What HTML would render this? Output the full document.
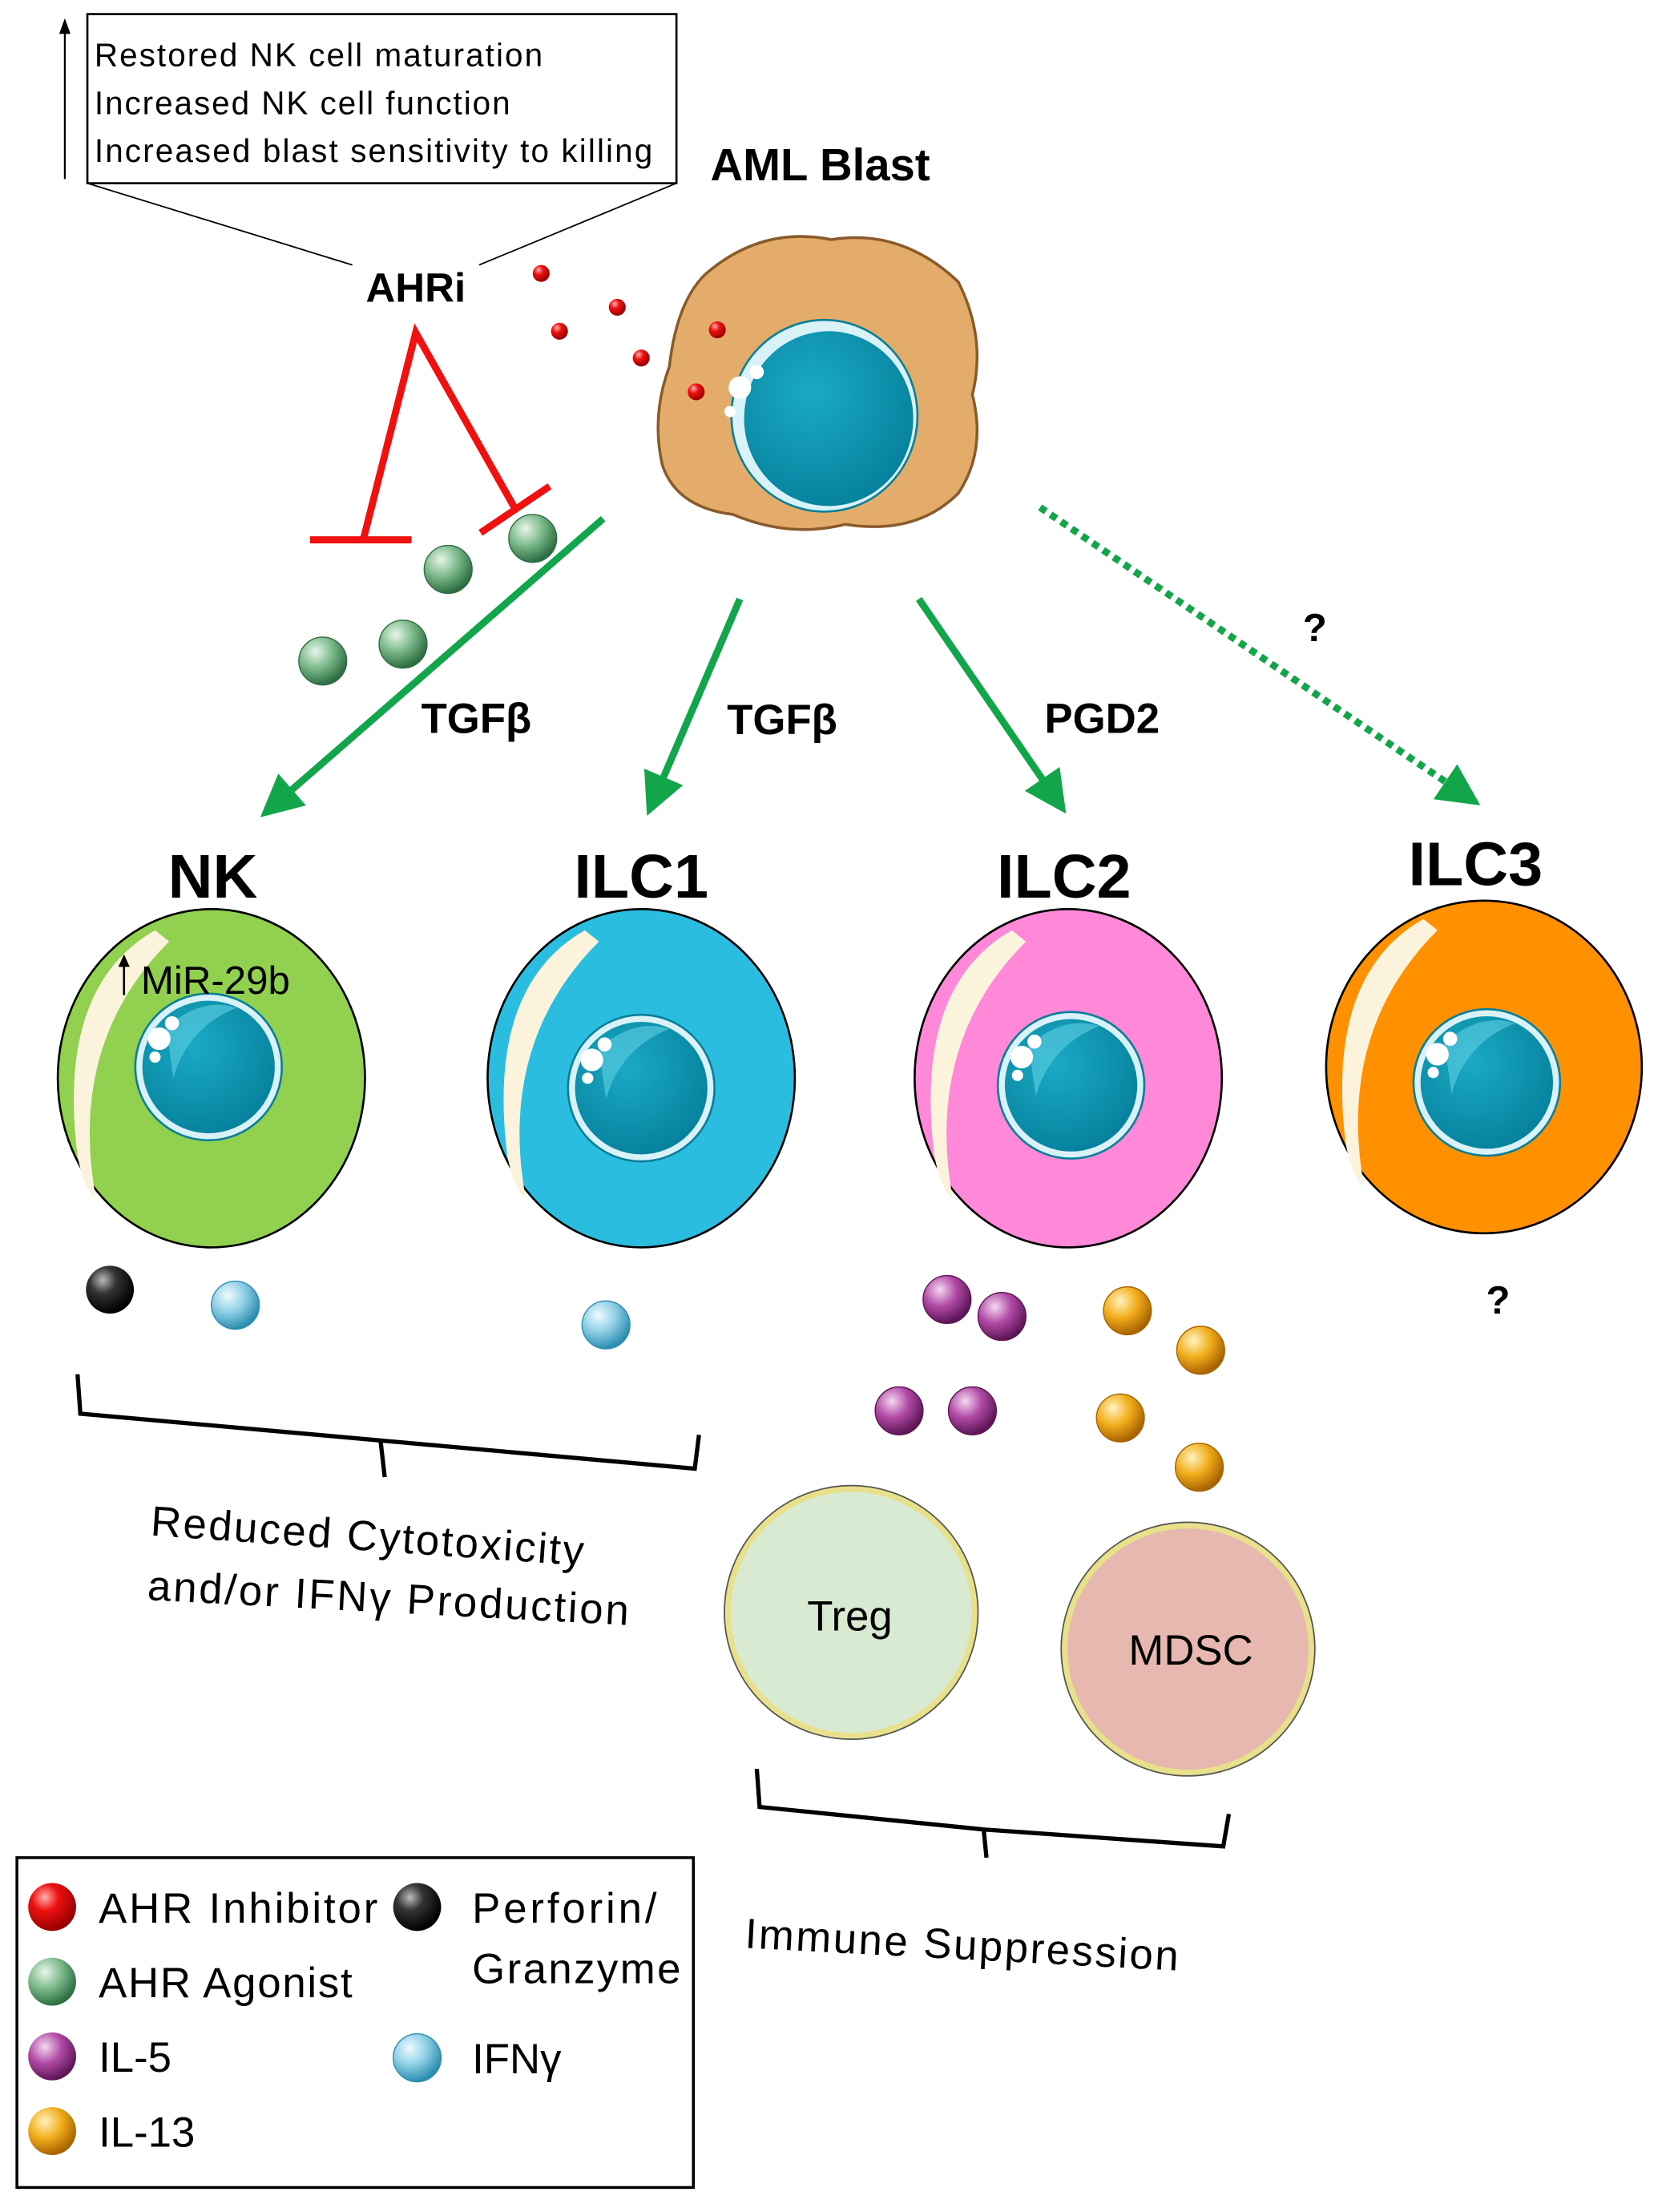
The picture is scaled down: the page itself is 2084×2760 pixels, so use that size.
<!DOCTYPE html>
<html><head><meta charset="utf-8"><style>
html,body{margin:0;padding:0;background:#fff;}
svg{display:block;}
text{font-family:"Liberation Sans",sans-serif;fill:#000;}
</style></head><body>
<svg width="2084" height="2760" viewBox="0 0 1185 1569.4" xmlns="http://www.w3.org/2000/svg">
<defs>
<radialGradient id="gRed" cx="0.35" cy="0.3" r="0.7"><stop offset="0" stop-color="#ffb0b0"/><stop offset="0.4" stop-color="#ee1111"/><stop offset="1" stop-color="#990000"/></radialGradient>
<radialGradient id="gGreen" cx="0.35" cy="0.3" r="0.7"><stop offset="0" stop-color="#e8f5ea"/><stop offset="0.5" stop-color="#7dbb8c"/><stop offset="1" stop-color="#2e6e42"/></radialGradient>
<radialGradient id="gPurp" cx="0.35" cy="0.3" r="0.7"><stop offset="0" stop-color="#f5d8f0"/><stop offset="0.5" stop-color="#b049a5"/><stop offset="1" stop-color="#5d1656"/></radialGradient>
<radialGradient id="gOr" cx="0.35" cy="0.3" r="0.7"><stop offset="0" stop-color="#fff3c0"/><stop offset="0.5" stop-color="#f2ae1c"/><stop offset="1" stop-color="#a96400"/></radialGradient>
<radialGradient id="gBlk" cx="0.35" cy="0.3" r="0.7"><stop offset="0" stop-color="#bbb"/><stop offset="0.4" stop-color="#333"/><stop offset="1" stop-color="#000"/></radialGradient>
<radialGradient id="gBlu" cx="0.35" cy="0.3" r="0.7"><stop offset="0" stop-color="#f0fbff"/><stop offset="0.5" stop-color="#8fd0e6"/><stop offset="1" stop-color="#2d8eb0"/></radialGradient>
<radialGradient id="gNuc" cx="0.4" cy="0.35" r="0.7"><stop offset="0" stop-color="#1aaac4"/><stop offset="1" stop-color="#06809c"/></radialGradient>
<marker id="ah" markerWidth="6" markerHeight="6" refX="3" refY="3" orient="auto" markerUnits="strokeWidth"><path d="M0,0 L6,3 L0,6 z" fill="#12a54b"/></marker>
<g id="nuc">
<circle r="52" fill="#d8f2f8" stroke="#0a7f98" stroke-width="1.5"/>
<circle r="47" fill="url(#gNuc)"/>
<path d="M-30,-28 Q-5,-50 20,-42 Q-15,-28 -25,8 Z" fill="#5fd0e2" opacity="0.6"/>
<circle cx="-35" cy="-20" r="8" fill="#fff"/><circle cx="-26" cy="-31" r="5" fill="#fff"/><circle cx="-38" cy="-7" r="4" fill="#fff"/>
</g>
</defs>

<rect x="62" y="10" width="418" height="120" fill="#fff" stroke="#000" stroke-width="1.5"/>
<text x="67" y="47" font-size="23" textLength="318">Restored NK cell maturation</text>
<text x="67" y="81" font-size="23" textLength="295">Increased NK cell function</text>
<text x="67" y="115" font-size="23" textLength="396">Increased blast sensitivity to killing</text>
<line x1="46" y1="127" x2="46" y2="22" stroke="#000" stroke-width="1.3"/>
<path d="M42,24 L46,13 L50,24 Z" fill="#000"/>
<line x1="62" y1="130" x2="250" y2="188" stroke="#000" stroke-width="1"/>
<line x1="480" y1="130" x2="340" y2="188" stroke="#000" stroke-width="1"/>
<text x="295" y="214" font-size="29" font-weight="bold" text-anchor="middle">AHRi</text>
<text x="582" y="128" font-size="32" font-weight="bold" text-anchor="middle">AML Blast</text>

<g stroke="#f01010" stroke-width="5" fill="none">
<path d="M258,382 L295,236 L365,360"/>
<line x1="220" y1="383" x2="292" y2="383"/>
<line x1="341" y1="378" x2="390" y2="345"/>
</g>
<g fill="url(#gGreen)" stroke="#2e6e42" stroke-width="0.8">
<circle cx="318" cy="404" r="17"/><circle cx="378" cy="382" r="17"/><circle cx="286" cy="457" r="17"/><circle cx="229" cy="469" r="17"/>
</g>

<path d="M500,195 Q540,160 590,170 Q640,162 680,200 Q700,240 690,280 Q700,320 680,350 Q650,380 600,372 Q560,382 520,365 Q480,360 470,330 Q462,295 475,260 Q480,215 500,195 Z" fill="#e4ac6a" stroke="#8a5a2b" stroke-width="2"/>
<ellipse cx="585" cy="295" rx="66" ry="68" fill="#d8f2f8" stroke="#0a7f98" stroke-width="1.5"/>
<ellipse cx="588" cy="297" rx="60" ry="62" fill="url(#gNuc)"/>
<circle cx="525" cy="275" r="8" fill="#fff"/><circle cx="537" cy="264" r="5" fill="#fff"/><circle cx="518" cy="292" r="4" fill="#fff"/>
<g fill="url(#gRed)">
<circle cx="384" cy="194" r="6"/><circle cx="438" cy="218" r="6"/><circle cx="397" cy="235" r="6"/><circle cx="455" cy="254" r="6"/><circle cx="509" cy="234" r="6"/><circle cx="494" cy="278" r="6"/>
</g>

<g stroke="#12a54b" stroke-width="5" fill="none">
<line x1="428" y1="368" x2="196" y2="570" marker-end="url(#ah)"/>
<line x1="525" y1="425" x2="465" y2="565" marker-end="url(#ah)"/>
<line x1="652" y1="425" x2="748" y2="565" marker-end="url(#ah)"/>
<line x1="738" y1="360" x2="1038" y2="563" stroke-dasharray="5,4" marker-end="url(#ah)"/>
</g>
<text x="338" y="520" font-size="30" font-weight="bold" text-anchor="middle">TGFβ</text>
<text x="555" y="521" font-size="30" font-weight="bold" text-anchor="middle">TGFβ</text>
<text x="782" y="520" font-size="30" font-weight="bold" text-anchor="middle">PGD2</text>
<text x="933" y="455" font-size="28" font-weight="bold" text-anchor="middle">?</text>

<text x="151" y="637" font-size="44" font-weight="bold" text-anchor="middle">NK</text>
<text x="455" y="637" font-size="44" font-weight="bold" text-anchor="middle">ILC1</text>
<text x="755" y="637" font-size="44" font-weight="bold" text-anchor="middle">ILC2</text>
<text x="1047" y="628" font-size="44" font-weight="bold" text-anchor="middle">ILC3</text>

<g stroke="#000" stroke-width="1.5">
<ellipse cx="150" cy="765" rx="109" ry="120" fill="#92d050"/>
<ellipse cx="455" cy="765" rx="109" ry="120" fill="#2bbde0"/>
<ellipse cx="758" cy="765" rx="109" ry="120" fill="#ff88d8"/>
<ellipse cx="1053" cy="757" rx="112" ry="118" fill="#ff9100"/>
</g>
<g fill="#fbf3dc">
<path d="M110,660 Q40,700 55,820 Q60,845 68,850 Q48,740 120,668 Z"/>
<path d="M415,660 Q345,700 360,820 Q365,845 373,850 Q353,740 425,668 Z"/>
<path d="M718,660 Q648,700 663,820 Q668,845 676,850 Q656,740 728,668 Z"/>
<path d="M1010,652 Q940,692 955,812 Q960,837 968,842 Q948,732 1020,660 Z"/>
</g>
<use href="#nuc" x="148" y="757"/>
<use href="#nuc" x="455" y="772"/>
<use href="#nuc" x="760" y="770"/>
<use href="#nuc" x="1055" y="768"/>
<text x="100" y="705" font-size="28">MiR-29b</text>
<line x1="88" y1="706" x2="88" y2="684" stroke="#000" stroke-width="1.5"/>
<path d="M84,686 L88,677 L92,686 Z" fill="#000"/>

<circle cx="78" cy="915" r="17" fill="url(#gBlk)"/>
<g fill="url(#gBlu)" stroke="#2d8eb0" stroke-width="0.8"><circle cx="167" cy="926" r="17"/><circle cx="430" cy="940" r="17"/></g>
<g fill="url(#gPurp)" stroke="#5d1656" stroke-width="0.8"><circle cx="672" cy="922" r="17"/><circle cx="711" cy="934" r="17"/><circle cx="638" cy="1001" r="17"/><circle cx="690" cy="1001" r="17"/></g>
<g fill="url(#gOr)" stroke="#a96400" stroke-width="0.8"><circle cx="800" cy="930" r="17"/><circle cx="852" cy="958" r="17"/><circle cx="795" cy="1006" r="17"/><circle cx="851" cy="1041" r="17"/></g>
<text x="1063" y="932" font-size="28" font-weight="bold" text-anchor="middle">?</text>

<path d="M55,975 L57,1003 L270,1022 L273,1048 M270,1022 L493,1042 L496,1018" fill="none" stroke="#000" stroke-width="3"/>
<text transform="translate(260,1100) rotate(4)" font-size="30" text-anchor="middle" textLength="308">Reduced Cytotoxicity</text>
<text transform="translate(275,1144) rotate(3)" font-size="30" text-anchor="middle" textLength="342">and/or IFNγ Production</text>

<circle cx="604" cy="1144" r="88" fill="#d9ead3" stroke="#e8e08a" stroke-width="5"/>
<circle cx="604" cy="1144" r="90" fill="none" stroke="#555" stroke-width="1"/>
<text x="603" y="1157" font-size="30" text-anchor="middle">Treg</text>
<circle cx="843" cy="1170" r="88" fill="#e6b8af" stroke="#e8e08a" stroke-width="5"/>
<circle cx="843" cy="1170" r="90" fill="none" stroke="#555" stroke-width="1"/>
<text x="845" y="1181" font-size="30" text-anchor="middle">MDSC</text>

<path d="M537,1255 L539,1282 L698,1298 L700,1318 M698,1298 L868,1310 L872,1287" fill="none" stroke="#000" stroke-width="3"/>
<text transform="translate(682,1390) rotate(3)" font-size="30" text-anchor="middle" textLength="308">Immune Suppression</text>

<rect x="12" y="1318" width="480" height="234" fill="#fff" stroke="#000" stroke-width="2"/>
<circle cx="37" cy="1353" r="17" fill="url(#gRed)"/>
<circle cx="37" cy="1406" r="17" fill="url(#gGreen)"/>
<circle cx="37" cy="1459" r="17" fill="url(#gPurp)"/>
<circle cx="37" cy="1512" r="17" fill="url(#gOr)"/>
<circle cx="296" cy="1353" r="17" fill="url(#gBlk)"/>
<circle cx="296" cy="1460" r="17" fill="url(#gBlu)" stroke="#2d8eb0" stroke-width="0.8"/>
<text x="70" y="1364" font-size="30" textLength="198">AHR Inhibitor</text>
<text x="70" y="1417" font-size="30" textLength="180">AHR Agonist</text>
<text x="70" y="1470" font-size="30">IL-5</text>
<text x="70" y="1523" font-size="30">IL-13</text>
<text x="335" y="1364" font-size="30" textLength="131">Perforin/</text>
<text x="335" y="1407" font-size="30" textLength="148">Granzyme</text>
<text x="335" y="1471" font-size="30">IFNγ</text>
</svg>
</body></html>
